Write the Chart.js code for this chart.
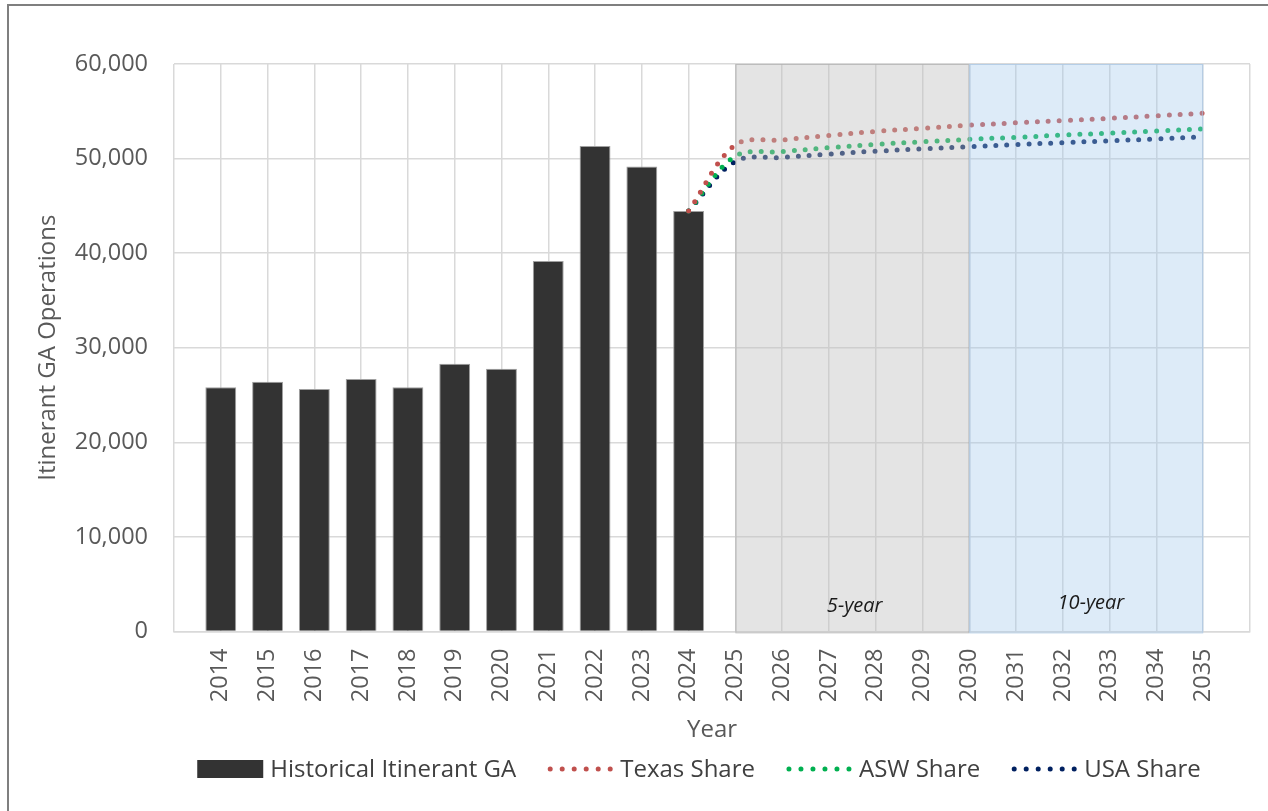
<!DOCTYPE html>
<html>
<head>
<meta charset="utf-8">
<script src="https://cdn.jsdelivr.net/npm/chart.js@4.4.1/dist/chart.umd.min.js"></script>
<style>
  html, body { margin: 0; padding: 0; background: #ffffff; }
  body { width: 1268px; height: 811px; position: relative; overflow: hidden; }
  #frame { position: absolute; left: 7px; top: 4px; width: 1300px; height: 900px;
           border: 2px solid #7f7f7f; box-sizing: border-box; }
  #wrap { position: absolute; left: 0; top: 0; width: 1268px; height: 811px; }
</style>
</head>
<body>
<div id="frame"></div>
<div id="wrap"><canvas id="chart" width="1268" height="811"></canvas></div>
<script>
// Historical itinerant general aviation operations, by year
const histYears = [2014, 2015, 2016, 2017, 2018, 2019, 2020, 2021, 2022, 2023, 2024];
const histOps   = [25810, 26410, 25640, 26690, 25810, 28310, 27780, 39160, 51340, 49150, 44470];

// Forecast years and the three share-based projections
const fcstYears  = [2024, 2025, 2026, 2027, 2028, 2029, 2030, 2031, 2032, 2033, 2034, 2035];
const texasShare = [44470, 51450, 51970, 52450, 52870, 53200, 53530, 53780, 54010, 54260, 54520, 54800];
const aswShare   = [44470, 50250, 50730, 51150, 51500, 51780, 52030, 52250, 52480, 52700, 52920, 53150];
const usaShare   = [44470, 49700, 50120, 50480, 50780, 51030, 51250, 51480, 51680, 51880, 52080, 52290];

// Axis tick labels
const yearLabels = [2014, 2015, 2016, 2017, 2018, 2019, 2020, 2021, 2022, 2023, 2024,
                    2025, 2026, 2027, 2028, 2029, 2030, 2031, 2032, 2033, 2034, 2035];
const yTicks = [0, 10000, 20000, 30000, 40000, 50000, 60000];

// Planning horizons shaded on the plot
const horizons = [
  { label: '5-year',  from: 2025, to: 2030 },
  { label: '10-year', from: 2030, to: 2035 }
];

const FONT = "'Open Sans', 'Noto Sans', sans-serif";
const TEXT = '#595959';

const toXY = (xs, ys) => xs.map((x, i) => ({ x: x, y: ys[i] }));

const seriesStyle = [
  { name: 'Texas Share', color: '#C0504D', values: texasShare },
  { name: 'ASW Share',   color: '#00B050', values: aswShare },
  { name: 'USA Share',   color: '#002060', values: usaShare }
];

const lineDatasets = seriesStyle.map(s => ({
  type: 'line',
  label: s.name,
  data: toXY(fcstYears, s.values),
  borderColor: s.color,
  backgroundColor: s.color,
  borderWidth: 5,
  borderDash: [0, 11],
  borderCapStyle: 'round',
  pointRadius: 0,
  tension: 0.35,
  fill: false,
  order: 1
}));

// Translucent horizon bands drawn over the projections, plus their captions
const horizonPlugin = {
  id: 'horizons',
  afterDatasetsDraw(chart) {
    const { ctx, scales: { x, y } } = chart;
    const fills = [
      { fill: 'rgba(191,191,191,0.42)', stroke: 'rgba(165,165,165,0.55)' },
      { fill: 'rgba(160,200,235,0.36)', stroke: 'rgba(170,200,230,0.7)' }
    ];
    const top = y.getPixelForValue(60000);
    const bottom = y.getPixelForValue(0) + 1;
    ctx.save();
    horizons.forEach((h, i) => {
      const l = x.getPixelForValue(h.from);
      const r = x.getPixelForValue(h.to);
      ctx.fillStyle = fills[i].fill;
      ctx.fillRect(l, top, r - l, bottom - top);
      ctx.strokeStyle = fills[i].stroke;
      ctx.lineWidth = 1;
      ctx.strokeRect(l + 0.5, top + 0.5, r - l - 1, bottom - top);
    });
    ctx.fillStyle = '#1a1a1a';
    ctx.font = "italic 20px " + FONT;
    ctx.textAlign = 'center';
    ctx.textBaseline = 'middle';
    const captionPos = [{ x: 2027.55, y: 2700 }, { x: 2032.6, y: 3000 }];
    horizons.forEach((h, i) => {
      ctx.fillText(h.label, x.getPixelForValue(captionPos[i].x), y.getPixelForValue(captionPos[i].y));
    });
    ctx.restore();
  }
};

// Legend row under the axis title
const legendPlugin = {
  id: 'bottomLegend',
  afterDraw(chart) {
    const { ctx } = chart;
    const items = [
      { name: 'Historical Itinerant GA', kind: 'box', color: '#333333' },
      ...seriesStyle.map(s => ({ name: s.name, kind: 'dots', color: s.color }))
    ];
    const symW = 66, symGap = 7, itemGap = 31, cy = 769;
    ctx.save();
    ctx.font = "24px " + FONT;
    const widths = items.map(it => symW + symGap + ctx.measureText(it.name).width);
    const total = widths.reduce((a, b) => a + b, 0) + itemGap * (items.length - 1);
    let cx = 699 - total / 2;
    items.forEach((it, i) => {
      if (it.kind === 'box') {
        ctx.fillStyle = it.color;
        ctx.fillRect(cx, cy - 9, symW, 18);
      } else {
        ctx.fillStyle = it.color;
        for (let k = 0; k < 6; k++) {
          ctx.beginPath();
          ctx.arc(cx + 3 + k * 12, cy, 2.5, 0, Math.PI * 2);
          ctx.fill();
        }
      }
      ctx.fillStyle = '#404040';
      ctx.textAlign = 'left';
      ctx.textBaseline = 'middle';
      ctx.fillText(it.name, cx + symW + symGap, cy + 1);
      cx += widths[i] + itemGap;
    });
    ctx.restore();
  }
};

new Chart(document.getElementById('chart'), {
  type: 'bar',
  data: {
    datasets: [
      {
        type: 'bar',
        label: 'Historical Itinerant GA',
        data: toXY(histYears, histOps),
        backgroundColor: '#333333',
        borderColor: '#a0a0a0',
        borderWidth: 1,
        categoryPercentage: 1,
        barPercentage: 0.66,
        order: 2
      },
      ...lineDatasets
    ]
  },
  options: {
    responsive: false,
    animation: false,
    layout: { padding: { left: 34, right: 18, top: 64, bottom: 66 } },
    plugins: {
      legend: { display: false },
      title: { display: false },
      tooltip: { enabled: false }
    },
    scales: {
      x: {
        type: 'linear',
        min: yearLabels[0] - 1,
        max: yearLabels[yearLabels.length - 1] + 1,
        offset: false,
        grid: { offset: false, color: '#d9d9d9', lineWidth: 1.5, drawTicks: false },
        border: { color: '#d9d9d9', width: 1.5 },
        afterBuildTicks(axis) {
          axis.ticks = [yearLabels[0] - 1, ...yearLabels, yearLabels[yearLabels.length - 1] + 1]
            .map(v => ({ value: v }));
        },
        afterFit(axis) {
          axis.paddingLeft = 0;
          axis.paddingRight = 0;
        },
        ticks: {
          autoSkip: false,
          minRotation: 90,
          maxRotation: 90,
          padding: 17,
          color: TEXT,
          font: { family: FONT, size: 23.5 },
          callback: v => (yearLabels.includes(v) ? String(v) : '')
        },
        title: {
          display: true,
          text: 'Year',
          color: TEXT,
          font: { family: FONT, size: 24 },
          padding: { top: -3, bottom: 0 }
        }
      },
      y: {
        min: 0,
        max: 60000,
        grid: { color: '#d9d9d9', lineWidth: 1.5, drawTicks: false },
        border: { display: false },
        afterBuildTicks(axis) {
          axis.ticks = yTicks.map(v => ({ value: v }));
        },
        afterFit(axis) {
          axis.width = 140;
        },
        ticks: {
          padding: 26,
          color: TEXT,
          font: { family: FONT, size: 23.5 },
          callback: v => v.toLocaleString('en-US')
        },
        title: {
          display: true,
          text: 'Itinerant GA Operations',
          color: TEXT,
          font: { family: FONT, size: 24 },
          padding: { top: 0, bottom: 0 }
        }
      }
    }
  },
  plugins: [horizonPlugin, legendPlugin]
});
</script>
</body>
</html>
